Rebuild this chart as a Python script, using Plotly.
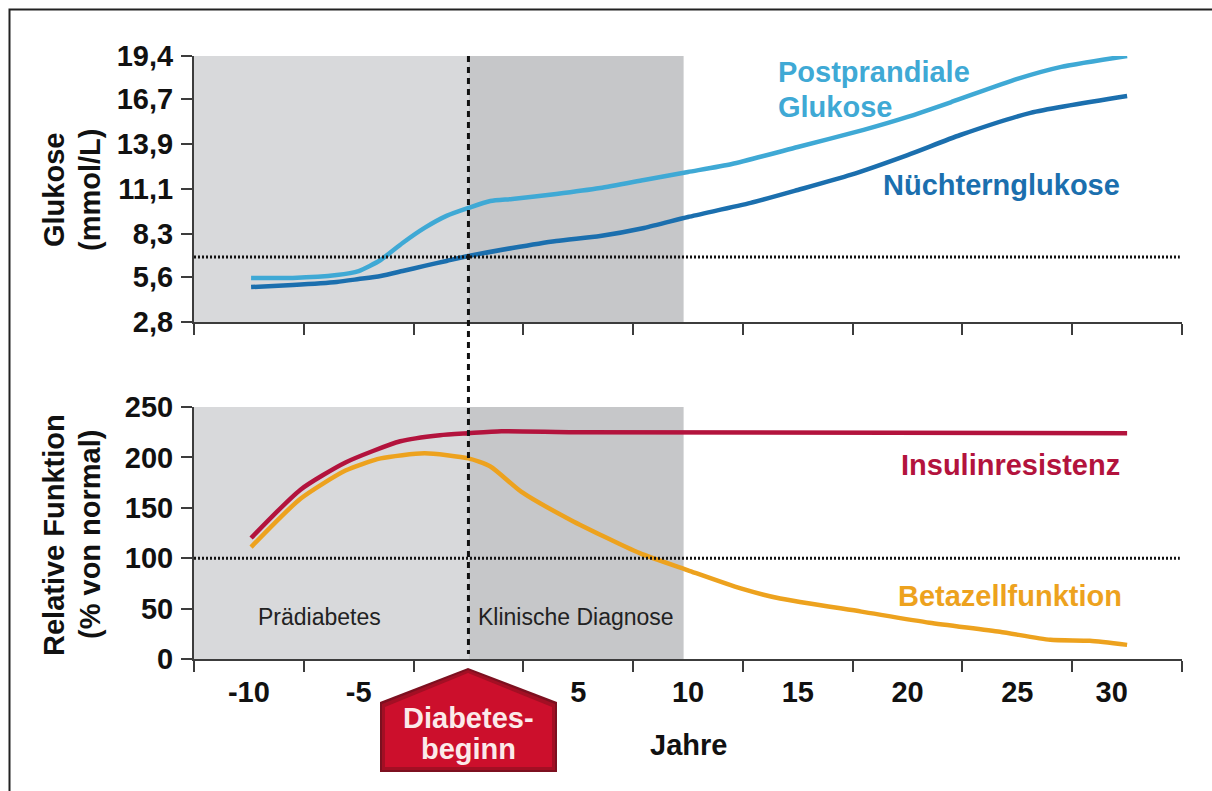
import plotly.graph_objects as go

# ---------- data ----------
post_years = [-9.9, -8, -6, -5, -4, -3, -2, -1, 0, 1, 2, 4, 6, 8, 10, 12, 15, 18, 20, 22, 25, 27, 30]
post_glucose = [5.55, 5.55, 5.73, 5.98, 6.67, 7.73, 8.67, 9.42, 9.92, 10.35, 10.48, 10.79, 11.16, 11.66,
                12.16, 12.66, 13.72, 14.79, 15.6, 16.53, 17.97, 18.72, 19.4]
fast_years = [-9.9, -8, -6, -5, -4, -3, -2, -1, 0, 2, 4, 6, 8, 10, 12.85, 15, 17.4, 20, 22.4, 25.6, 30]
fast_glucose = [4.98, 5.11, 5.3, 5.48, 5.67, 5.98, 6.3, 6.61, 6.92, 7.42, 7.86, 8.17, 8.67, 9.35,
                10.23, 11.04, 11.98, 13.22, 14.47, 15.85, 16.9]
ins_years = [-9.9, -7.65, -5.6, -3.1, -1.3, 0, 1.5, 5, 30]
ins_resistance = [120, 168, 195, 216, 222, 224, 226, 225, 224]
beta_years = [-9.9, -7.65, -5.6, -4, -2, 0, 1, 2.4, 4.65, 7.8, 10, 12.4, 14.2, 17.9, 21, 24.2, 26.5, 28.3, 30]
beta_function = [111, 159, 187, 199, 204, 199, 191, 166, 138, 105, 88, 70, 60, 47, 36, 27, 19, 18, 14]

glucose_ticks = [2.8, 5.6, 8.3, 11.1, 13.9, 16.7, 19.4]
glucose_labels = ["2,8", "5,6", "8,3", "11,1", "13,9", "16,7", "19,4"]
function_ticks = [0, 50, 100, 150, 200, 250]
year_ticks = [-12.5, -7.5, -2.5, 2.5, 7.5, 12.5, 17.5, 22.5, 27.5, 32.5]
year_label_positions = [-10, -5, 5, 10, 15, 20, 25, 29.3]
year_labels = ["-10", "-5", "5", "10", "15", "20", "25", "30"]
glucose_threshold = 6.86
normal_function = 100
clinical_end = 9.8

# ---------- geometry ----------
W, H = 1212, 791
FONT = "Liberation Sans"
AXIS = "#3c3c3c"
LIGHT, DARK, RED, ORANGE = "#3fa9d5", "#1b6fae", "#b3133d", "#eda21e"


def px(v):
    return v / W


def py(v):
    return 1 - v / H


fig = go.Figure()


def line(x, y, color, xa, ya):
    fig.add_trace(go.Scatter(x=x, y=y, mode="lines", xaxis=xa, yaxis=ya, hoverinfo="skip", cliponaxis=False,
                             line=dict(color=color, width=4.5, shape="spline", smoothing=0.6)))


line(post_years, post_glucose, LIGHT, "x", "y")
line(fast_years, fast_glucose, DARK, "x", "y")
line(ins_years, ins_resistance, RED, "x2", "y2")
line(beta_years, beta_function, ORANGE, "x2", "y2")

TICKFONT = dict(family=FONT, size=29, color="#111111", weight="bold")
xcommon = dict(range=[-12.5, 32.5], showgrid=False, zeroline=False, showline=True, linecolor=AXIS, linewidth=2,
               ticks="", tickmode="array", automargin=False,
               minor=dict(tickmode="array", tickvals=year_ticks, ticks="outside", ticklen=11,
                          tickcolor=AXIS, tickwidth=2))
ycommon = dict(showgrid=False, zeroline=False, showline=True, linecolor=AXIS, linewidth=2, ticks="outside",
               ticklen=11, tickcolor=AXIS, tickwidth=2, tickmode="array", automargin=False,
               ticklabelstandoff=2, tickfont=TICKFONT)

fig.update_layout(
    width=W, height=H, autosize=False, margin=dict(l=0, r=0, t=0, b=0, pad=0, autoexpand=False),
    paper_bgcolor="white", plot_bgcolor="white", showlegend=False,
    xaxis=dict(domain=[px(194), px(1182)], anchor="y", tickvals=[], showticklabels=False, **xcommon),
    xaxis2=dict(domain=[px(194), px(1182)], anchor="y2", tickvals=year_label_positions, ticktext=year_labels,
                ticklabelstandoff=6, tickfont=TICKFONT, **xcommon),
    yaxis=dict(domain=[py(322), py(56)], anchor="x", range=[2.8, 19.4], tickvals=glucose_ticks,
               ticktext=glucose_labels, **ycommon),
    yaxis2=dict(domain=[py(659), py(407)], anchor="x2", range=[0, 250], tickvals=function_ticks, **ycommon),
)

# shaded phases
for xa, ya, top, bottom in (("x", "y", 19.4, 2.8), ("x2", "y2", 250, 0)):
    fig.add_shape(type="rect", xref=xa, yref=ya, x0=-12.5, x1=0, y0=bottom, y1=top,
                  fillcolor="#d8d9db", line_width=0, layer="below")
    fig.add_shape(type="rect", xref=xa, yref=ya, x0=0, x1=clinical_end, y0=bottom, y1=top,
                  fillcolor="#c6c7c9", line_width=0, layer="below")

# reference lines
fig.add_shape(type="line", xref="x", yref="y", x0=-12.5, x1=32.4, y0=glucose_threshold, y1=glucose_threshold,
              line=dict(color="#111111", width=3, dash="2px 2px"))
fig.add_shape(type="line", xref="x2", yref="y2", x0=-12.5, x1=32.4, y0=normal_function, y1=normal_function,
              line=dict(color="#111111", width=3, dash="2px 2px"))
fig.add_shape(type="line", xref="x", yref="paper", x0=0, x1=0, y0=py(56), y1=py(654),
              line=dict(color="#111111", width=3, dash="6px 5px"))

# frame
fig.add_shape(type="path", xref="paper", yref="paper",
              path=f"M {px(9.5)} {py(791)} L {px(9.5)} {py(9.5)} L {px(1212)} {py(9.5)}",
              line=dict(color="#222222", width=2))


def house(inset, colour):
    l, r, a, s, b = px(380 + inset), px(557 - inset), py(668 + inset), py(702 + inset), py(772 - inset)
    m = px(468)
    fig.add_shape(type="path", xref="paper", yref="paper", fillcolor=colour, line_width=0,
                  path=f"M {m} {a} L {r} {s} L {r} {b} L {l} {b} L {l} {s} Z")


house(0, "#7d1020")
house(2, "#a30f24")
house(5, "#cc0f2c")


def text(x, y, t, color="#111111", size=29, bold=True, anchor="left", angle=0):
    fig.add_annotation(xref="paper", yref="paper", x=px(x), y=py(y), text=f"<b>{t}</b>" if bold else t,
                       showarrow=False, xanchor=anchor, yanchor="middle", textangle=angle, align="center",
                       font=dict(family=FONT, size=size, color=color), borderpad=0)


text(777, 72, "Postprandiale", LIGHT)
text(777, 107, "Glukose", LIGHT)
text(1121, 185, "Nüchternglukose", DARK, anchor="right")
text(1121, 465, "Insulinresistenz", RED, anchor="right")
text(1123, 596, "Betazellfunktion", ORANGE, anchor="right")
text(320, 617, "Prädiabetes", "#222222", 23, bold=False, anchor="center")
text(576, 617, "Klinische Diagnose", "#222222", 23, bold=False, anchor="center")
text(468, 718, "Diabetes-", "#fbeaea", 29, anchor="center")
text(468, 749, "beginn", "#fbeaea", 29, anchor="center")
text(688, 745, "Jahre", "#111111", 29, anchor="center")
text(54, 190, "Glukose", "#111111", anchor="center", angle=-90)
text(90, 190, "(mmol/L)", "#111111", anchor="center", angle=-90)
text(54, 535, "Relative Funktion", "#111111", anchor="center", angle=-90)
text(90, 535, "(% von normal)", "#111111", anchor="center", angle=-90)

fig.write_html("out.html", config={"displayModeBar": False},
               post_script="document.body.style.margin='0';document.body.style.overflow='hidden';")
